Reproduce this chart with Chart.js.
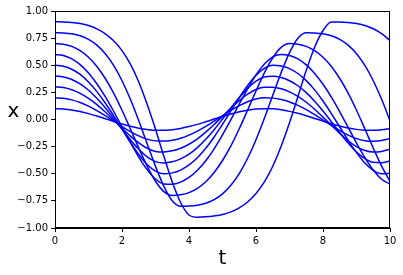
<!DOCTYPE html>
<html>
<head>
<meta charset="utf-8">
<script src="https://cdn.jsdelivr.net/npm/chart.js@4.4.1/dist/chart.umd.min.js"></script>
<style>
  body { margin: 0; background: #fff; }
  #wrap { position: relative; width: 403px; height: 275px; }
  #ylab { position: absolute; left: 0; top: 100px; width: 27px; text-align: center;
          font: 20px 'DejaVu Sans'; line-height: 20px; color: #000; }
</style>
</head>
<body>
<div id="wrap">
  <canvas id="myChart" width="403" height="275"></canvas>
  <div id="ylab">x</div>
</div>
<script>
// time samples, step 0.25
const t = [0, 0.25, 0.5, 0.75, 1, 1.25, 1.5, 1.75, 2, 2.25, 2.5, 2.75, 3, 3.25, 3.5, 3.75, 4, 4.25, 4.5, 4.75, 5,
  5.25, 5.5, 5.75, 6, 6.25, 6.5, 6.75, 7, 7.25, 7.5, 7.75, 8, 8.25, 8.5, 8.75, 9, 9.25, 9.5, 9.75, 10];

// one curve per starting value x(0) = 0.1 ... 0.9
const x01 = [0.100, 0.097, 0.088, 0.073, 0.054, 0.032, 0.007, -0.018, -0.042, -0.063, -0.080, -0.092, -0.099, -0.099,
  -0.094, -0.082, -0.065, -0.045, -0.021, 0.004, 0.028, 0.051, 0.071, 0.086, 0.096, 0.100, 0.098, 0.089, 0.075, 0.057,
  0.035, 0.010, -0.015, -0.039, -0.060, -0.078, -0.091, -0.098, -0.100, -0.095, -0.084];
const x02 = [0.200, 0.195, 0.181, 0.156, 0.123, 0.082, 0.035, -0.015, -0.065, -0.111, -0.151, -0.181, -0.197, -0.199,
  -0.191, -0.172, -0.144, -0.107, -0.064, -0.015, 0.035, 0.084, 0.128, 0.164, 0.189, 0.200, 0.197, 0.184, 0.162, 0.130,
  0.091, 0.045, -0.005, -0.055, -0.102, -0.144, -0.176, -0.195, -0.200, -0.193, -0.176];
const x03 = [0.300, 0.294, 0.274, 0.241, 0.195, 0.137, 0.069, -0.005, -0.081, -0.153, -0.216, -0.265, -0.294, -0.299,
  -0.289, -0.265, -0.228, -0.178, -0.116, -0.046, 0.029, 0.105, 0.174, 0.234, 0.277, 0.298, 0.297, 0.283, 0.255, 0.213,
  0.159, 0.095, 0.022, -0.053, -0.128, -0.196, -0.250, -0.286, -0.300, -0.294, -0.275];
const x04 = [0.400, 0.392, 0.369, 0.328, 0.270, 0.196, 0.109, 0.012, -0.089, -0.187, -0.275, -0.344, -0.388, -0.400,
  -0.390, -0.363, -0.320, -0.259, -0.183, -0.094, 0.004, 0.105, 0.202, 0.287, 0.353, 0.392, 0.399, 0.387, 0.357, 0.311,
  0.248, 0.169, 0.078, -0.020, -0.121, -0.217, -0.299, -0.361, -0.395, -0.398, -0.383];
const x05 = [0.500, 0.491, 0.463, 0.415, 0.346, 0.257, 0.152, 0.035, -0.089, -0.211, -0.323, -0.414, -0.476, -0.500,
  -0.492, -0.466, -0.419, -0.352, -0.265, -0.161, -0.044, 0.079, 0.201, 0.314, 0.407, 0.472, 0.499, 0.494, 0.469, 0.424,
  0.358, 0.273, 0.170, 0.054, -0.069, -0.192, -0.305, -0.401, -0.468, -0.499, -0.495];
const x06 = [0.600, 0.590, 0.559, 0.506, 0.429, 0.330, 0.211, 0.076, -0.067, -0.211, -0.346, -0.462, -0.548, -0.594,
  -0.597, -0.577, -0.534, -0.468, -0.380, -0.270, -0.142, -0.002, 0.143, 0.283, 0.411, 0.512, 0.578, 0.600, 0.589, 0.558,
  0.503, 0.425, 0.325, 0.206, 0.071, -0.073, -0.217, -0.351, -0.466, -0.551, -0.595];
const x07 = [0.700, 0.694, 0.674, 0.635, 0.574, 0.489, 0.378, 0.243, 0.085, -0.087, -0.263, -0.429, -0.569, -0.665,
  -0.700, -0.694, -0.674, -0.635, -0.574, -0.489, -0.378, -0.243, -0.085, 0.087, 0.263, 0.429, 0.569, 0.665, 0.700, 0.694,
  0.674, 0.635, 0.574, 0.489, 0.378, 0.243, 0.085, -0.087, -0.263, -0.429, -0.569];
const x08 = [0.800, 0.798, 0.790, 0.772, 0.739, 0.685, 0.606, 0.498, 0.357, 0.186, -0.011, -0.223, -0.432, -0.616,
  -0.749, -0.800, -0.798, -0.790, -0.772, -0.739, -0.685, -0.606, -0.498, -0.357, -0.186, 0.011, 0.223, 0.432, 0.616,
  0.749, 0.800, 0.798, 0.790, 0.772, 0.739, 0.685, 0.606, 0.498, 0.357, 0.186, -0.011];
const x09 = [0.900, 0.899, 0.894, 0.884, 0.866, 0.835, 0.790, 0.725, 0.635, 0.510, 0.345, 0.140, -0.090, -0.340,
  -0.575, -0.765, -0.880, -0.900, -0.897, -0.889, -0.876, -0.851, -0.814, -0.760, -0.682, -0.575, -0.431, -0.247, -0.030,
  0.210, 0.453, 0.666, 0.820, 0.898, 0.899, 0.894, 0.884, 0.867, 0.836, 0.792, 0.728];

const curves = [x01, x02, x03, x04, x05, x06, x07, x08, x09];

const xTicks = [0, 2, 4, 6, 8, 10];

const fmt = v => (v < 0 ? '\u2212' : '') + Math.abs(v).toFixed(2);

// box round the plot, like matplotlib spines
const frame = {
  id: 'frame',
  afterDraw(chart) {
    const {ctx, chartArea: a} = chart;
    ctx.save();
    ctx.strokeStyle = '#000';
    ctx.lineWidth = 1;
    ctx.strokeRect(Math.round(a.left) + 0.5, Math.round(a.top) + 0.5,
      Math.round(a.right - a.left) - 1, Math.round(a.bottom - a.top) - 1);
    ctx.restore();
  }
};

const data = {
  datasets: curves.map((c, k) => ({
    label: 'x0=' + ((k + 1) / 10).toFixed(1),
    data: t.map((tv, i) => ({x: tv, y: c[i]})),
    borderColor: '#0000ff',
    borderWidth: 1.5,
    pointRadius: 0,
    fill: false,
    cubicInterpolationMode: 'monotone'
  }))
};

const config = {
  type: 'line',
  data,
  options: {
    responsive: false,
    animation: false,
    devicePixelRatio: 1,
    layout: {padding: {top: 11, right: 13, left: 0, bottom: 0}},
    plugins: {legend: {display: false}, tooltip: {enabled: false}},
    scales: {
      x: {
        type: 'linear', min: 0, max: 10,
        afterFit: s => { s.height = 47; },
        afterBuildTicks: s => { s.ticks = xTicks.map(v => ({value: v})); },
        grid: {display: true, drawOnChartArea: false, drawTicks: true, tickLength: 4, color: '#000'},
        border: {display: true, color: '#000', width: 1},
        ticks: {color: '#000', padding: 3, maxRotation: 0, font: {family: 'DejaVu Sans', size: 10}},
        title: {display: true, text: 't', color: '#000', padding: {top: 0, bottom: 4},
          font: {family: 'DejaVu Sans', size: 20}}
      },
      y: {
        min: -1, max: 1,
        afterFit: s => { s.width = 55; },
        grid: {display: true, drawOnChartArea: false, drawTicks: true, tickLength: 4, color: '#000'},
        border: {display: true, color: '#000', width: 1},
        ticks: {stepSize: 0.25, color: '#000', padding: 3, callback: v => fmt(v),
          font: {family: 'DejaVu Sans', size: 10}}
      }
    }
  },
  plugins: [frame]
};

const myChart = new Chart(document.getElementById('myChart'), config);
</script>
</body>
</html>
